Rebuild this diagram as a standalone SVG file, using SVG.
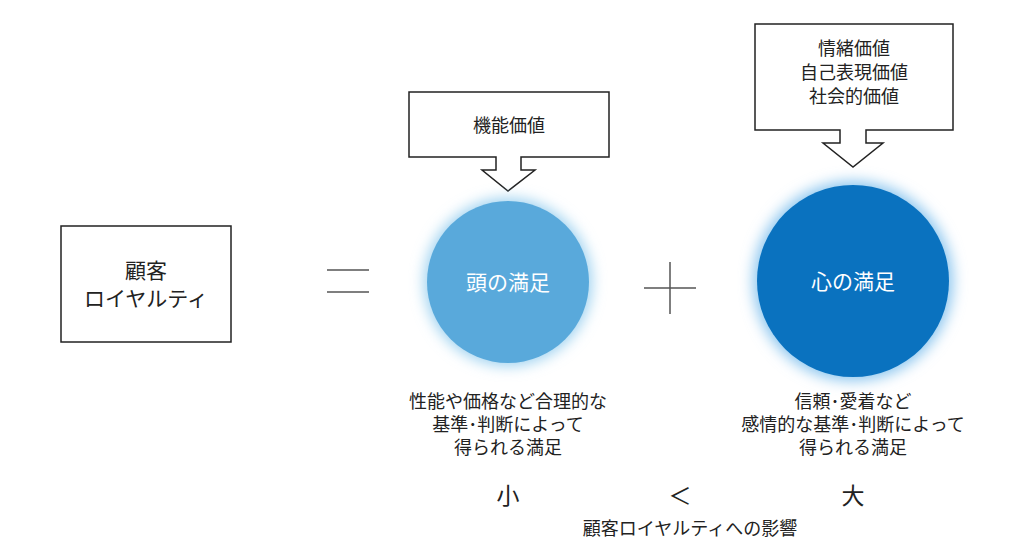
<svg xmlns="http://www.w3.org/2000/svg" width="1030" height="557" viewBox="0 0 1030 557">
<style>
text{font-family:"Noto Sans CJK JP","Noto Sans",sans-serif;fill:#222;text-anchor:middle}
.b{fill:#fff;stroke:#222;stroke-width:1.5}
.l{stroke:#555;stroke-width:1.5;fill:none}
.w{fill:#fff;font-size:21px}
.t{font-size:18px}
</style>
<defs>
<filter id="g" x="-30%" y="-30%" width="160%" height="160%"><feGaussianBlur stdDeviation="7"/></filter>
</defs>
<rect width="1030" height="557" fill="#fff"/>
<g id="loyalty"><rect class="b" x="61" y="226" width="170" height="116"/>
<text x="146" y="278" font-size="21">顧客</text><text x="146" y="306" font-size="21">ロイヤルティ</text></g>
<g id="connectors">
<line class="l" x1="327" y1="270" x2="369" y2="270"/><line class="l" x1="327" y1="292" x2="369" y2="292"/>
<line class="l" x1="644" y1="288" x2="696" y2="288"/><line class="l" x1="670" y1="262" x2="670" y2="314"/>
</g>
<g id="func"><path class="b" d="M409,92H609V157H521V170H535L508,191L482,170H496V157H409Z"/>
<text class="t" x="509" y="132">機能価値</text></g>
<g id="emo"><path class="b" d="M755,24H953V130H866V143H883L853,167L823,143H840V130H755Z"/>
<text class="t" x="854" y="55">情緒価値</text><text class="t" x="854" y="79">自己表現価値</text><text class="t" x="854" y="103">社会的価値</text></g>
<g id="head"><circle cx="508" cy="282" r="84" fill="#9fd2f0" filter="url(#g)"/><circle cx="508" cy="282" r="81" fill="#59a9db"/>
<text class="w" x="508" y="290">頭の満足</text>
<text class="t" x="508" y="408">性能や価格など合理的な</text><text class="t" x="508" y="431">基準･判断によって</text><text class="t" x="508" y="454">得られる満足</text></g>
<g id="heart"><circle cx="853" cy="281" r="100" fill="#8cc6ef" filter="url(#g)"/><circle cx="853" cy="281" r="96" fill="#0a72bf"/>
<text class="w" x="853" y="289">心の満足</text>
<text class="t" x="853" y="408">信頼･愛着など</text><text class="t" x="853" y="431">感情的な基準･判断によって</text><text class="t" x="853" y="454">得られる満足</text></g>
<g id="compare">
<text x="508" y="504" font-size="23">小</text><text x="680" y="504" font-size="23">＜</text><text x="853" y="504" font-size="23">大</text>
<text class="t" x="690" y="535">顧客ロイヤルティへの影響</text></g>
</svg>
